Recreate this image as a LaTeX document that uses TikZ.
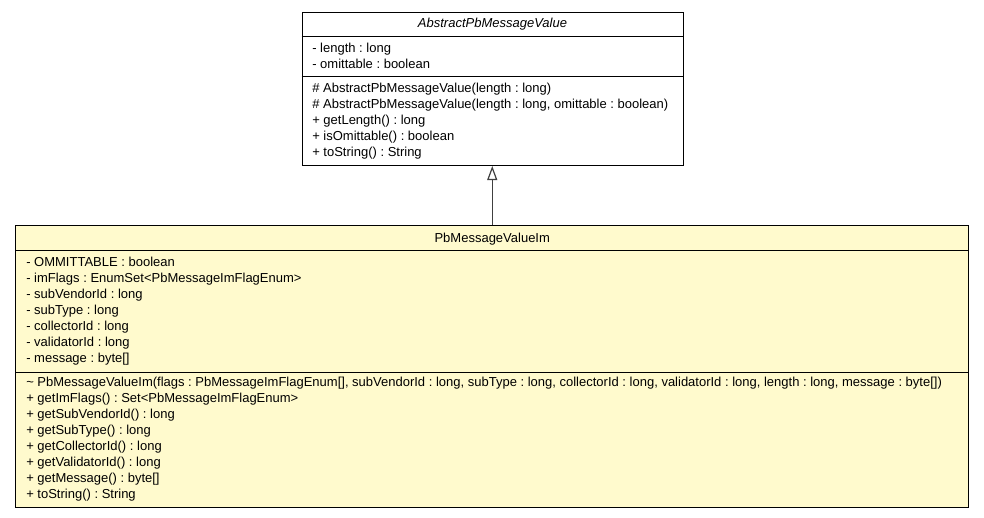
\documentclass[tikz,border=0pt]{standalone}
\usepackage{fontspec}
\setmainfont{Liberation Sans}
\usepackage{xcolor}
\usetikzlibrary{positioning,shapes,arrows.meta}
\definecolor{lemon}{HTML}{FFFACD}
\definecolor{edgegray}{HTML}{404040}
\frenchspacing
\newcommand{\mrow}[1]{\strut #1}

\begin{document}
\begin{tikzpicture}[x=0.75pt,y=-0.75pt]
\tikzstyle{classbox}=[draw=black, line width=0.75pt, inner sep=0pt, anchor=north]
\tikzstyle{classtitle}=[inner sep=0pt, anchor=base, font=\fontsize{9.75pt}{12pt}\selectfont]
\tikzstyle{classmembers}=[inner sep=0pt, anchor=north west, align=left, font=\fontsize{9.75pt}{12pt}\selectfont]
\useasboundingbox (0,0) rectangle (984,517);
\node [classbox, fill=white, minimum width=285.75pt, minimum height=114.75pt] (abstractvalue) at (492.5,12) {};
\draw [line width=0.75pt] (abstractvalue.north west) ++(0,25) -- ++(381,0);
\draw [line width=0.75pt] (abstractvalue.north west) ++(0,65) -- ++(381,0);
\node [classtitle] (abstracttitle) at (492.5,28) {\itshape AbstractPbMessageValue};
\node [classmembers] (abstractattrs) at (312,40.8) {\mrow{- length : long}\\\mrow{- omittable : boolean}};
\node [classmembers] (abstractops) at (312,80.8) {\mrow{\# AbstractPbMessageValue(length : long)}\\\mrow{\# AbstractPbMessageValue(length : long, omittable : boolean)}\\\mrow{+ getLength() : long}\\\mrow{+ isOmittable() : boolean}\\\mrow{+ toString() : String}};
\node [classbox, fill=lemon, minimum width=715.1pt, minimum height=211.5pt] (imvalue) at (492.25,225) {};
\draw [line width=0.75pt] (imvalue.north west) ++(0,25) -- ++(953.5,0);
\draw [line width=0.75pt] (imvalue.north west) ++(0,147) -- ++(953.5,0);
\node [classtitle] (imtitle) at (492.25,242) {PbMessageValueIm};
\node [classmembers] (imattrs) at (26,254.8) {\mrow{- OMMITTABLE : boolean}\\\mrow{- imFlags : EnumSet<PbMessageImFlagEnum>}\\\mrow{- subVendorId : long}\\\mrow{- subType : long}\\\mrow{- collectorId : long}\\\mrow{- validatorId : long}\\\mrow{- message : byte[]}};
\node [classmembers] (imops) at (26,375.3) {\mrow{\textasciitilde{} PbMessageValueIm(flags : PbMessageImFlagEnum[], subVendorId : long, subType : long, collectorId : long, validatorId : long, length : long, message : byte[])}\\\mrow{+ getImFlags() : Set<PbMessageImFlagEnum>}\\\mrow{+ getSubVendorId() : long}\\\mrow{+ getSubType() : long}\\\mrow{+ getCollectorId() : long}\\\mrow{+ getValidatorId() : long}\\\mrow{+ getMessage() : byte[]}\\\mrow{+ toString() : String}};
\draw [edgegray, line width=0.9pt, -{Triangle[open, length=10.5pt, width=7.5pt, fill=white]}] (imvalue.north) -- (imvalue.north |- abstractvalue.south);
\end{tikzpicture}
\end{document}
